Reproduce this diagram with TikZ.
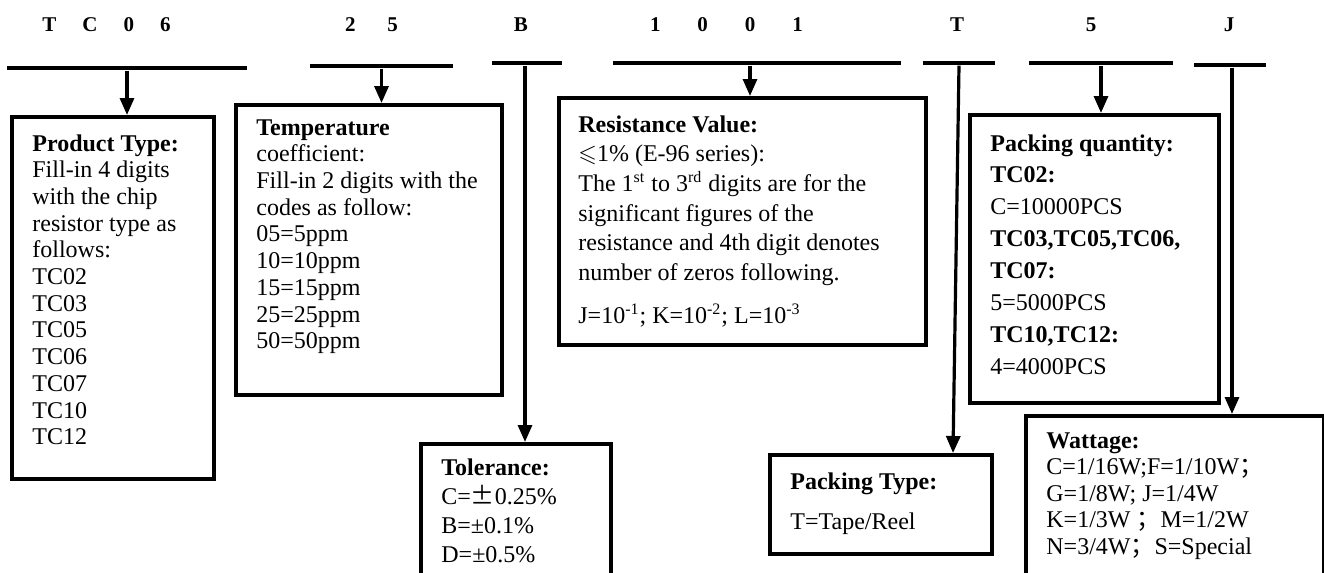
\documentclass[tikz,border=0pt]{standalone}
\usepackage{amssymb}
\usepackage{fontspec}
\setmainfont{Liberation Serif}
\newfontfamily\cjkfont{Noto Sans CJK SC}
\usetikzlibrary{arrows.meta,positioning}

\begin{document}
\begin{tikzpicture}[
  x=0.5pt, y=-0.5pt,
  font=\fontsize{12}{13.35}\selectfont,
  code/.style={font=\bfseries\fontsize{10.5}{12}\selectfont, inner sep=0pt},
  bar/.style={fill=black, inner sep=0pt, minimum height=2.2pt},
  frame/.style={draw, line width=1.8pt, anchor=north west, inner sep=0pt},
  txt/.style={align=left, inner sep=0pt},
  arrow/.style={-{Triangle[length=8.5pt, width=7pt]}, line width=1.6pt}
]
\clip (0,0) rectangle (1324,573);
\node[code] (c1) at (106.5,25) {T\hspace{13pt}C\hspace{13pt}0\hspace{13pt}6};
\node[code] (c2) at (371.5,25) {2\hspace{16pt}5};
\node[code] (c3) at (521,25) {B};
\node[code] (c4) at (726.5,25) {1\hspace{18.5pt}0\hspace{18.5pt}0\hspace{18.5pt}1};
\node[code] (c5) at (957,25) {T};
\node[code] (c6) at (1091,25) {5};
\node[code] (c7) at (1229,25) {J};
\node[bar, minimum width=120pt] (bar1) at (127,68) {};
\node[bar, minimum width=71.5pt] (bar2) at (381.5,66) {};
\node[bar, minimum width=35pt] (bar3) at (527,63) {};
\node[bar, minimum width=144pt] (bar4) at (757,63) {};
\node[bar, minimum width=36pt] (bar5) at (959,63) {};
\node[bar, minimum width=72pt] (bar6) at (1101,63) {};
\node[bar, minimum width=36pt] (bar7) at (1230,65) {};
\node[frame, minimum width=101pt, minimum height=181pt] (prod) at (10,115) {};
\node[frame, minimum width=133pt, minimum height=145pt] (temp) at (234,103) {};
\node[frame, minimum width=183.5pt, minimum height=123.5pt] (res) at (557,96) {};
\node[frame, minimum width=124.5pt, minimum height=144pt] (qty) at (968,113) {};
\node[frame, minimum width=95pt, minimum height=80pt] (tol) at (419,442) {};
\node[frame, minimum width=111pt, minimum height=49.5pt] (pack) at (768,453) {};
\node[frame, minimum width=149pt, minimum height=90pt] (watt) at (1024,414) {};
\node[txt, below right=9.5pt and 11pt of prod.north west] (prodtxt) {\textbf{Product Type:}\\Fill-in 4 digits\\with the chip\\resistor type as\\follows:\\TC02\\TC03\\TC05\\TC06\\TC07\\TC10\\TC12};
\node[txt, below right=8pt and 11pt of temp.north west] (temptxt) {\textbf{Temperature}\\coefficient:\\Fill-in 2 digits with the\\codes as follow:\\05=5ppm\\10=10ppm\\15=15ppm\\25=25ppm\\50=50ppm};
\node[txt, below right=9.5pt and 10.5pt of res.north west, font=\fontsize{12}{14.85}\selectfont] (restxt) {\textbf{Resistance Value:}\\$\leqslant$1\% (E-96 series):\\The 1\textsuperscript{st} to 3\textsuperscript{rd} digits are for the\\significant figures of the\\resistance and 4th digit denotes\\number of zeros following.\\[6.5pt]J=10\textsuperscript{-1}; K=10\textsuperscript{-2}; L=10\textsuperscript{-3}};
\node[txt, below right=10.5pt and 11pt of qty.north west, font=\fontsize{12}{15.95}\selectfont] (qtytxt) {\textbf{Packing quantity:}\\\textbf{TC02:}\\C=10000PCS\\\textbf{TC03,TC05,TC06,}\\\textbf{TC07:}\\5=5000PCS\\\textbf{TC10,TC12:}\\4=4000PCS};
\node[txt, below right=8pt and 11pt of tol.north west, font=\fontsize{12}{14.5}\selectfont] (toltxt) {\textbf{Tolerance:}\\C={\cjkfont ±}0.25\%\\B=±0.1\%\\D=±0.5\%};
\node[txt, below right=9.5pt and 11pt of pack.north west] (packtxt) {\textbf{Packing Type:}\\[6.65pt]T=Tape/Reel};
\node[txt, below right=9pt and 11pt of watt.north west, font=\fontsize{12}{13.25}\selectfont] (watttxt) {\textbf{Wattage:}\\C=1/16W;F=1/10W{\cjkfont ；}\\G=1/8W; J=1/4W\\K=1/3W {\cjkfont ；}M=1/2W\\N=3/4W{\cjkfont ；}S=Special};
\draw[arrow] (bar1.south) -- (bar1.south |- prod.north);
\draw[arrow] (bar2.south) -- (bar2.south |- temp.north);
\draw[arrow] ([xshift=-1pt]bar3.south) -- ([xshift=-1pt]bar3.south |- tol.north);
\draw[arrow] ([xshift=-3.5pt]bar4.south) -- ([xshift=-3.5pt]bar4.south |- res.north);
\draw[arrow] (bar5.south) -- ([xshift=-3pt]bar5.south |- pack.north);
\draw[arrow] (bar6.south) -- (bar6.south |- qty.north);
\draw[arrow] ([xshift=1pt]bar7.south) -- ([xshift=1pt]bar7.south |- watt.north);
\end{tikzpicture}
\end{document}
